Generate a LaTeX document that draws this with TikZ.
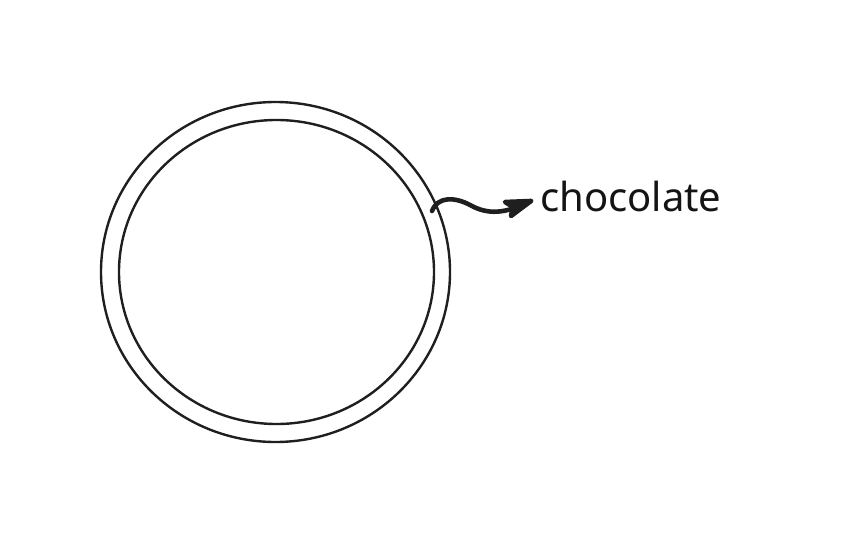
\documentclass[tikz,border=0pt]{standalone}
\usepackage{fontspec}
\setmainfont{Noto Sans}
\begin{document}
\begin{tikzpicture}[x=1pt,y=-1pt,
  ring/.style={draw=black!88,line width=2.4pt},
  wavy/.style={draw=black!88,line width=4.6pt,line cap=round,line join=round},
  lbl/.style={font=\fontsize{40}{42}\selectfont,text=black!92,inner sep=0pt,anchor=west}]
\useasboundingbox (0,0) rectangle (843,543);
\draw[ring] (275.5,272) ellipse [x radius=174.5, y radius=170];
\draw[ring] (276.5,272) ellipse [x radius=157.5, y radius=152];
\node[lbl] (txt) at (540,196) {chocolate};
\coordinate (s) at (432,211);
\coordinate (tip) at (531,201);
\draw[wavy] (s) .. controls (438,196) and (455,197) .. (470,205)
  .. controls (488,215) and (505,214) .. (tip);
\draw[wavy,fill=black!88] (505,202) -- (tip) -- (511,216) -- (513,207) -- cycle;
\end{tikzpicture}
\end{document}
